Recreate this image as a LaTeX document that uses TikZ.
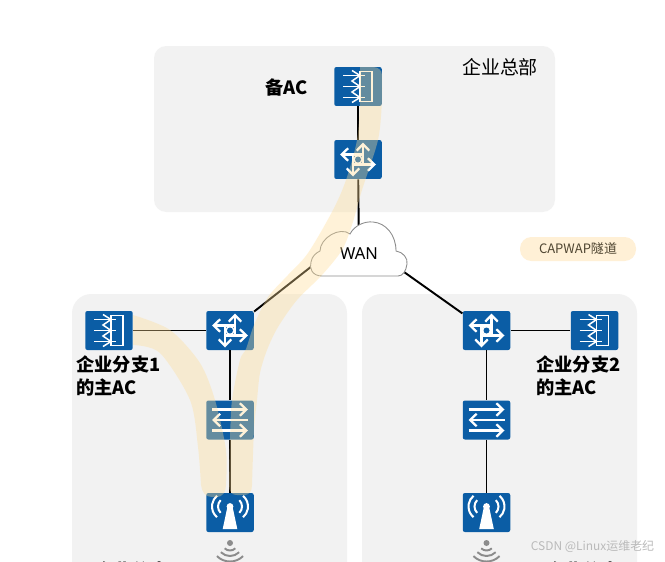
\documentclass[tikz,border=0pt]{standalone}
\usepackage{fontspec}
\usepackage{xcolor}
\setmainfont{Noto Sans}
\newfontfamily\cjk{Noto Sans CJK SC}
\usetikzlibrary{arrows.meta}
\definecolor{PanelGray}{RGB}{242,242,242}
\definecolor{DeviceBlue}{RGB}{11,93,165}
\definecolor{TunnelCream}{RGB}{255,222,151}
\definecolor{PillCream}{RGB}{255,240,214}
\definecolor{PillText}{RGB}{80,70,50}
\begin{document}
\begin{tikzpicture}[x=0.02cm,y=-0.02cm]
    \tikzset{
        panel/.style={fill=PanelGray},
        device/.style={rectangle, rounded corners=1.2pt, fill=DeviceBlue,
            minimum width=0.95cm, minimum height=0.78cm, inner sep=0pt},
        wire/.style={line width=1.1pt, black},
        tunnel/.style={fill=TunnelCream, fill opacity=0.37},
        glyph/.style={draw=white, line width=0.85pt},
        barb/.style={draw=white, line width=1.3pt, -{Straight Barb[length=1.3mm,width=2.5mm]}},
        barbless/.style={draw=white, line width=1.15pt},
        waves/.style={draw=black!45, line width=1.1pt},
        sitelabel/.style={font=\cjk\bfseries\fontsize{10.4}{13.2}\selectfont, align=left, anchor=west, inner sep=0pt},
        pics/acglyph/.style={code={
            \draw[glyph] (2,-15) rectangle (14,15);
            \foreach \y in {-11,0,11} \draw[glyph] (-15,\y) -- (7,\y);
            \draw[glyph] (-6,-16) -- (2,-11) -- (-6,-5.5) -- (2,0) -- (-6,5.5) -- (2,11) -- (-6,16);
        }},
        pics/routerglyph/.style={code={
            \draw[barb] (5,5) -- (5,-17);
            \draw[barb] (-5,-5) -- (-5,17);
            \draw[barb] (5,-5) -- (-18,-5);
            \draw[barb] (-5,5) -- (18,5);
            \fill[white] (0,0) circle[radius=4.6];
            \fill[DeviceBlue] (0,0) circle[radius=3];
        }},
        pics/switchglyph/.style={code={
            \draw[barb] (-18,-10.5) -- (18,-10.5);
            \draw[barb] (18,0) -- (-18,0);
            \draw[barb] (-18,10.5) -- (18,10.5);
        }},
        pics/apglyph/.style={code={
            \fill[white] (-7.3,16.5) -- (7.3,16.5) -- (2.5,-6) -- (-2.5,-6) -- cycle;
            \fill[white] (0,-6) circle[radius=3.4];
            \draw[barbless] (-3,-6) ++(135:9) arc[start angle=135, end angle=225, radius=9];
            \draw[barbless] (3,-6) ++(-45:9) arc[start angle=-45, end angle=45, radius=9];
            \draw[barbless] (-4,-6) ++(130:14) arc[start angle=130, end angle=230, radius=14];
            \draw[barbless] (4,-6) ++(-50:14) arc[start angle=-50, end angle=50, radius=14];
        }},
        pics/wifiglyph/.style={code={
            \fill[black!45] (0,0) circle[radius=3];
            \foreach \r in {7.5,13,18.5}
                \draw[waves] (45:\r) arc[start angle=45, end angle=135, radius=\r];
        }}
    }
    \useasboundingbox (0,0) rectangle (665,561);
    \clip (0,0) rectangle (665,561);
    \fill[white] (0,0) rectangle (665,561);
    % gray areas
    \fill[panel, rounded corners=7pt] (154,46) rectangle (555,212);
    \fill[panel, rounded corners=11pt] (72,294) rectangle (347,640);
    \fill[panel, rounded corners=11pt] (362,294) rectangle (637,640);
    % devices
    \node[device] (backupac) at (358,86.5) {};
    \node[device] (hqrouter) at (358,159.5) {};
    \node[device] (ac1) at (109,330.5) {};
    \node[device] (router1) at (230,330.5) {};
    \node[device] (switch1) at (230,420) {};
    \node[device] (ap1) at (230,512.5) {};
    \node[device] (ac2) at (594.5,330.5) {};
    \node[device] (router2) at (486.5,330.5) {};
    \node[device] (switch2) at (486.5,420) {};
    \node[device] (ap2) at (486.5,512.5) {};
    \coordinate (wan) at (359,252);
    \coordinate (wanleft) at (312,266);
    \coordinate (wanright) at (404,272);
    % links
    \draw[wire] (backupac) -- (hqrouter);
    \draw[wire] (hqrouter) -- (wan);
    \draw[wire] (wanleft) -- (router1);
    \draw[wire] (wanright) -- (router2);
    \draw[wire] (ac1) -- (router1);
    \draw[wire] (router1) -- (switch1);
    \draw[wire] (switch1) -- (ap1);
    \draw[wire] (ac2) -- (router2);
    \draw[wire] (router2) -- (switch2);
    \draw[wire] (switch2) -- (ap2);
    % cloud
    \draw[fill=white, draw=black!45, line width=0.5pt] (322,276)
        .. controls (312,276) and (309,268) .. (311,262)
        .. controls (312,256) and (316,253) .. (320,251)
        .. controls (320,238) and (340,226) .. (350,234)
        .. controls (354,226) and (364,221) .. (373,222)
        .. controls (386,223) and (396,235) .. (396,251)
        .. controls (403,252) and (408,258) .. (407,264)
        .. controls (406,271) and (403,276) .. (398,276) -- cycle;
    \node[font=\fontsize{9.4}{11}\selectfont] (wantext) at (359,254) {WAN};
    % icons
    \pic at (backupac) {acglyph};
    \pic at (ac1) {acglyph};
    \pic at (ac2) {acglyph};
    \pic at (hqrouter) {routerglyph};
    \pic at (router1) {routerglyph};
    \pic at (router2) {routerglyph};
    \pic at (switch1) {switchglyph};
    \pic at (switch2) {switchglyph};
    \pic at (ap1) {apglyph};
    \pic at (ap2) {apglyph};
    \pic at (230,543) {wifiglyph};
    \pic at (486.5,543) {wifiglyph};
    % tunnels
    \fill[tunnel] plot[smooth] coordinates {(360,67) (360,100) (357,140) (346,180) (333,210) (308,253) (288,275) (268,297) (254,325) (246,349) (240,360) (232,400) (230,440) (229,485)}
        .. controls (229,492) and (232,495) .. (237,495) -- (244,495)
        .. controls (249,495) and (252,492) .. (252,485)
        -- plot[smooth] coordinates {(252,485) (254,430) (257,400) (260,373) (267,350) (278,327) (297,300) (322,275) (342,250) (352,225) (362,190) (378,140) (382,100) (382,75)}
        .. controls (382,70) and (378,67) .. (373,67) -- cycle;
    \fill[tunnel] plot[smooth] coordinates {(133,315) (170,330) (200,363) (215,400) (226,450) (226,485)}
        .. controls (226,492) and (223,497) .. (216,497) -- (212,497)
        .. controls (205,497) and (202,492) .. (201,485)
        -- plot[smooth] coordinates {(201,485) (198,447) (190,400) (160,353) (133,345)} -- cycle;
    % labels
    \node[font=\cjk\fontsize{10.8}{13}\selectfont] (hqlabel) at (500,67) {企业总部};
    \node[sitelabel] (backuplabel) at (265,87) {备AC};
    \node[sitelabel] (branch1label) at (76,376) {企业分支1\\的主AC};
    \node[sitelabel] (branch2label) at (536,376) {企业分支2\\的主AC};
    \node[sitelabel] (site1label) at (95,570) {企业分支};
    \node[sitelabel] (site2label) at (546,570) {企业分支};
    \node[rectangle, rounded corners=6.5pt, fill=PillCream, minimum width=2.32cm, minimum height=0.48cm, inner sep=0pt,
        text=PillText, font=\cjk\fontsize{7.4}{9}\selectfont] (legend) at (578,249) {CAPWAP隧道};
    \node[text=black!27, font=\cjk\fontsize{6.8}{8}\selectfont] (mark) at (592.5,547) {CSDN @Linux运维老纪};
\end{tikzpicture}
\end{document}
